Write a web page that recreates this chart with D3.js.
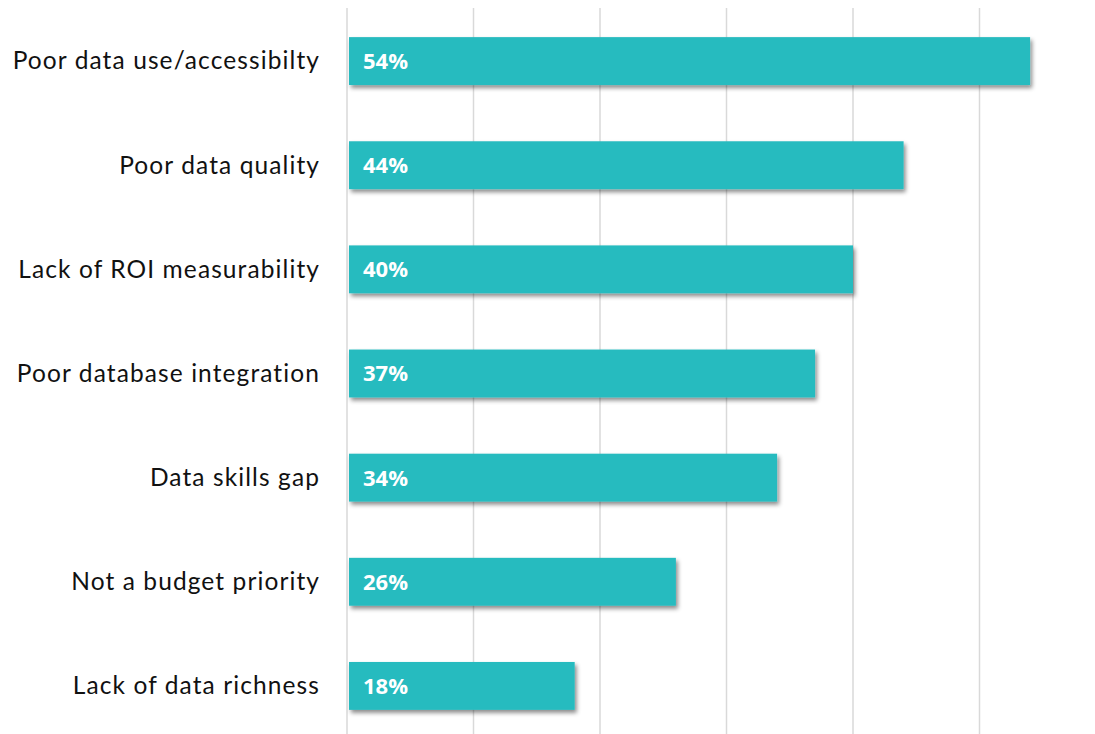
<!DOCTYPE html>
<html>
<head>
<meta charset="utf-8">
<script src="https://cdn.jsdelivr.net/npm/d3@7"></script>
<style>
  html, body { margin: 0; padding: 0; background: #fff; }
  svg { display: block; }
</style>
</head>
<body>
<svg id="chart" width="1095" height="734"></svg>
<script>
// Reasons cited, in display order (top to bottom)
const categories = [
  "Poor data use/accessibilty",
  "Poor data quality",
  "Lack of ROI measurability",
  "Poor database integration",
  "Data skills gap",
  "Not a budget priority",
  "Lack of data richness"
];
const values = [54, 44, 40, 37, 34, 26, 18];
const gridTicks = [0, 10, 20, 30, 40, 50, 60];

const svg = d3.select("#chart");
const W = 1095, H = 734;

const x = d3.scaleLinear().domain([0, 60]).range([347, 1106]);
const y = d3.scaleBand()
  .domain(categories)
  .range([9, 738])
  .paddingInner(0.54)
  .paddingOuter(0.27);

// soft drop shadow under each bar
const defs = svg.append("defs");
const f = defs.append("filter").attr("id", "shadow")
  .attr("x", "-5%").attr("y", "-20%").attr("width", "115%").attr("height", "160%");
f.append("feDropShadow")
  .attr("dx", 2).attr("dy", 3).attr("stdDeviation", 2)
  .attr("flood-color", "#000").attr("flood-opacity", 0.45);

// vertical gridlines
svg.append("g")
  .selectAll("line")
  .data(gridTicks)
  .join("line")
  .attr("x1", d => x(d)).attr("x2", d => x(d))
  .attr("y1", 8).attr("y2", H)
  .attr("stroke", "#d9d9d9")
  .attr("stroke-width", 1.5);

const data = categories.map((c, i) => ({ c, v: values[i] }));

// bars
svg.append("g")
  .selectAll("rect")
  .data(data)
  .join("rect")
  .attr("x", x(0) + 2)
  .attr("y", d => y(d.c))
  .attr("width", d => x(d.v) - x(0) - 2)
  .attr("height", y.bandwidth())
  .attr("fill", "#28BBBF")
  .attr("filter", "url(#shadow)");

// value labels inside bars
svg.append("g")
  .selectAll("text")
  .data(data)
  .join("text")
  .attr("x", x(0) + 16)
  .attr("y", d => y(d.c) + y.bandwidth() / 2)
  .attr("dy", "0.36em")
  .attr("fill", "#fff")
  .attr("font-family", "'Open Sans', sans-serif")
  .attr("font-weight", 700)
  .attr("font-size", 22)
  .text(d => d.v + "%");

// category labels
svg.append("g")
  .selectAll("text")
  .data(data)
  .join("text")
  .attr("x", 320)
  .attr("y", d => y(d.c) + y.bandwidth() / 2)
  .attr("dy", "0.34em")
  .attr("text-anchor", "end")
  .attr("fill", "#111")
  .attr("font-family", "Lato, sans-serif")
  .attr("font-size", 24.5)
  .attr("letter-spacing", 1.1)
  .text(d => d.c);
</script>
</body>
</html>
